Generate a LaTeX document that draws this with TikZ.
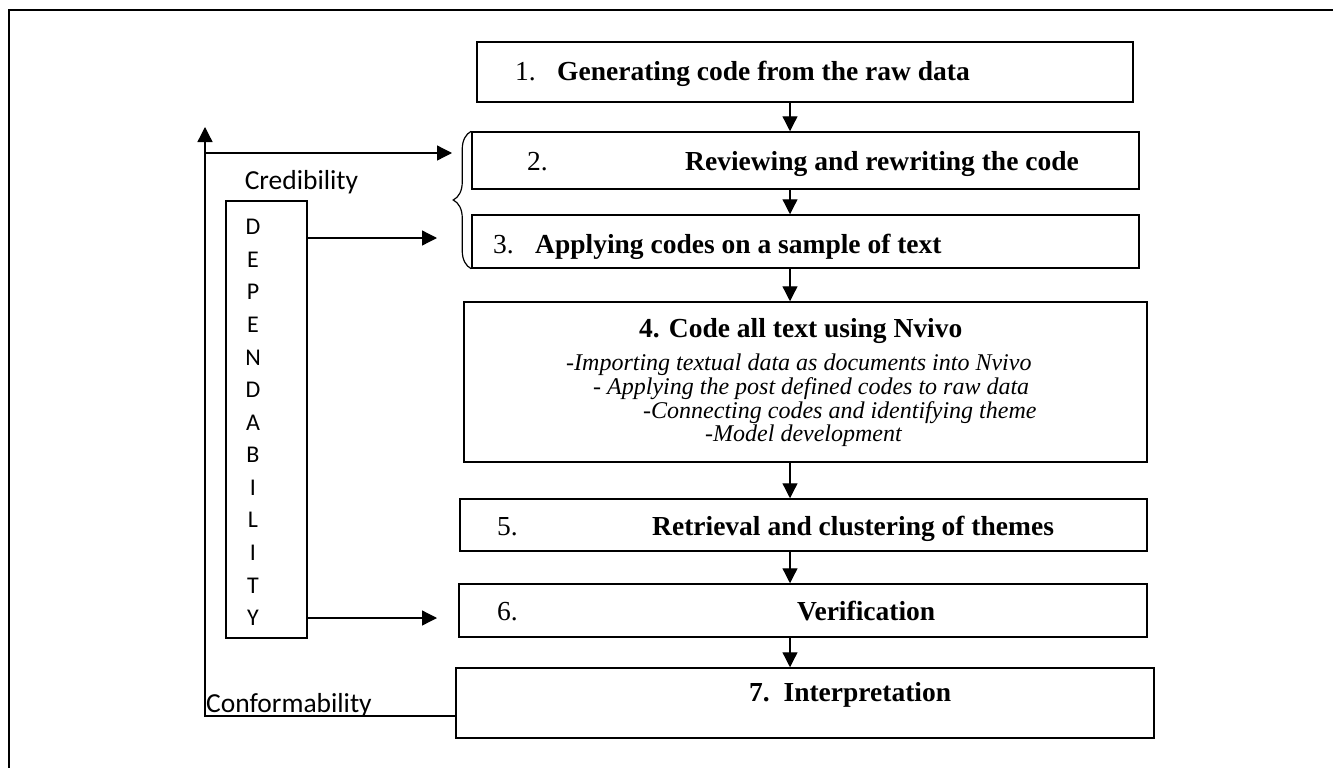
\documentclass[tikz,border=0pt]{standalone}
\usepackage{fontspec}
\setmainfont{Liberation Serif}
\newfontfamily\sidefont{Carlito}
\usetikzlibrary{arrows.meta,decorations.pathreplacing}
\begin{document}
\begin{tikzpicture}[x=1pt,y=-1pt,
  box/.style={draw, line width=1.5pt, inner sep=0pt},
  bt/.style={font=\fontsize{27.5}{32}\selectfont\bfseries, anchor=base west, inner sep=0pt},
  nt/.style={font=\fontsize{27.5}{32}\selectfont, anchor=base west, inner sep=0pt},
  it/.style={font=\fontsize{24}{28}\selectfont\itshape, anchor=base west, inner sep=0pt},
  st/.style={font=\sidefont\fontsize{27.5}{30}\selectfont, inner sep=0pt},
  lt/.style={font=\sidefont\fontsize{24}{28}\selectfont, inner sep=0pt},
  arr/.style={line width=1.3pt, -{Triangle[length=15pt,width=15pt]}}]
\useasboundingbox (0,0) rectangle (1333,768);
% outer frame (top and left only)
\draw[line width=2pt] (9,768) -- (9,10) -- (1333,10);
% boxes
\node[box, minimum width=656pt, minimum height=60pt] (b1) at (805,72) {};
\node[box, minimum width=667pt, minimum height=57pt] (b2) at (805.5,160.5) {};
\node[box, minimum width=667pt, minimum height=53pt] (b3) at (805.5,241.5) {};
\node[box, minimum width=683pt, minimum height=160pt] (b4) at (805.5,382) {};
\node[box, minimum width=687pt, minimum height=52pt] (b5) at (803.5,525) {};
\node[box, minimum width=688pt, minimum height=53pt] (b6) at (803,610.5) {};
\node[box, minimum width=698pt, minimum height=70pt] (b7) at (805,703) {};
% box texts
\node[nt] (n1) at (515,81) {1.};
\node[bt] (t1) at (557,81) {Generating code from the raw data};
\node[nt] (n2) at (527,170) {2.};
\node[bt] (t2) at (685,170) {Reviewing and rewriting the code};
\node[nt] (n3) at (493,253) {3.};
\node[bt] (t3) at (535,253) {Applying codes on a sample of text};
\node[bt] (t4) at (639,337) {4. Code all text using Nvivo};
\node[it] (i1) at (566,370) {-Importing textual data as documents into Nvivo};
\node[it] (i2) at (593,394) {- Applying the post defined codes to raw data};
\node[it] (i3) at (643,418) {-Connecting codes and identifying theme};
\node[it] (i4) at (705,441) {-Model development};
\node[nt] (n5) at (497,535) {5.};
\node[bt] (t5) at (652,535) {Retrieval and clustering of themes};
\node[nt] (n6) at (497,620) {6.};
\node[bt] (t6) at (797,620) {Verification};
\node[bt] (t7) at (749,701) {7.\ \ Interpretation};
% vertical arrows between boxes
\coordinate (ax) at (790,0);
\draw[arr] (b1.south -| ax) -- (b2.north -| ax);
\draw[arr] (b2.south -| ax) -- (b3.north -| ax);
\draw[arr] (b3.south -| ax) -- (b4.north -| ax);
\draw[arr] (b4.south -| ax) -- (b5.north -| ax);
\draw[arr] (b5.south -| ax) -- (b6.north -| ax);
\draw[arr] (b6.south -| ax) -- (b7.north -| ax);
% brace
\draw[line width=1.2pt, decorate, decoration={brace, amplitude=18pt}]
  (b3.south west) -- (b2.north west);
% left loop
\coordinate (corner) at (205,716);
\coordinate (ltop) at (205,127);
\coordinate (cr) at (205,153);
\coordinate (brtip) at (452,153);
\draw[arr] (b7.west |- corner) -- (corner) -- (ltop);
\draw[arr] (cr) -- (brtip);
% labels
\node[st] (cred) at (301.5,182) {Credibility};
\node[st, anchor=base west] (conf) at (206,712) {Conformability};
% dependability box
\node[draw, line width=1.3pt, minimum width=81pt, minimum height=437pt, inner sep=0pt] (dep) at (266.5,419.5) {};
\foreach \l [count=\i from 0] in {D,E,P,E,N,D,A,B,I,L,I,T,Y}
  \node[lt] (L\i) at (253,227+32.58*\i) {\l};
\coordinate (e3) at (437,238);
\coordinate (e6) at (437,618);
\draw[arr] (dep.east |- e3) -- (e3);
\draw[arr] (dep.east |- e6) -- (e6);
\end{tikzpicture}
\end{document}
